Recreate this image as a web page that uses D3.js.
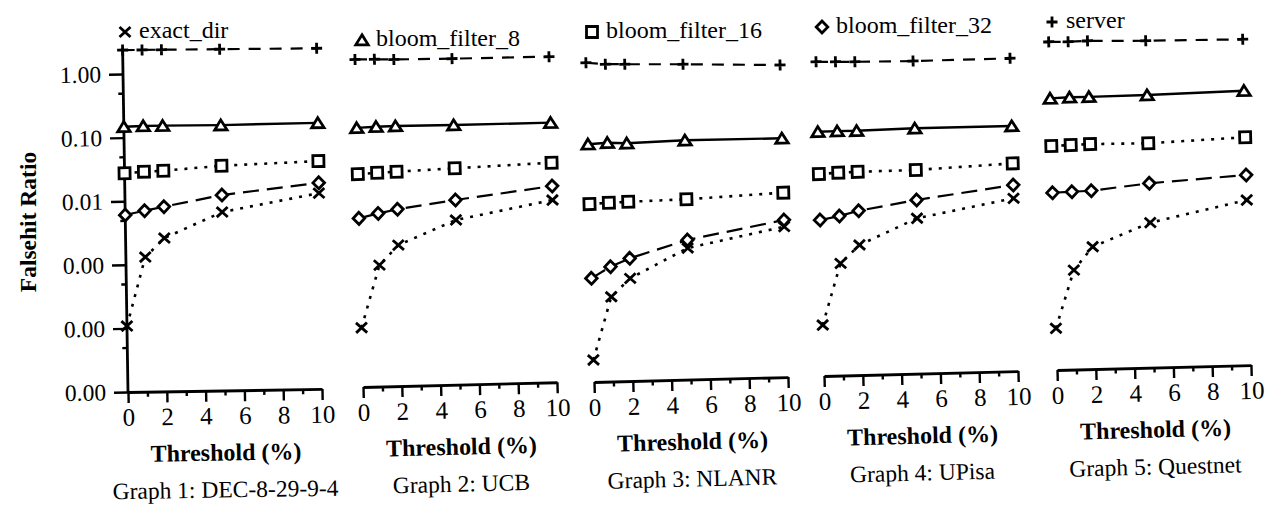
<!DOCTYPE html>
<html><head><meta charset="utf-8">
<script src="https://cdn.jsdelivr.net/npm/d3@7"></script>
<style>body{margin:0;background:#fff;} svg{display:block;}</style>
</head><body><svg id="chart" width="1268" height="508"></svg>
<script>
// ---------------- data ----------------
const thresholds = [0, 1, 2, 5, 10];
const graphTitles = ["Graph 1: DEC-8-29-9-4", "Graph 2: UCB", "Graph 3: NLANR", "Graph 4: UPisa", "Graph 5: Questnet"];
const legendLabels = ["exact_dir", "bloom_filter_8", "bloom_filter_16", "bloom_filter_32", "server"];
const serverValues = [
  [2.38, 2.37, 2.36, 2.33, 2.27],
  [1.42, 1.40, 1.37, 1.34, 1.32],
  [1.05, 0.98, 0.96, 0.91, 0.81],
  [0.875, 0.859, 0.844, 0.822, 0.830],
  [1.45, 1.43, 1.45, 1.38, 1.33]
];
const bloom8Values = [
  [0.148, 0.151, 0.151, 0.149, 0.153],
  [0.119, 0.122, 0.123, 0.121, 0.121],
  [0.055, 0.057, 0.055, 0.058, 0.057],
  [0.0694, 0.0698, 0.0694, 0.0720, 0.0716],
  [0.187, 0.191, 0.191, 0.193, 0.207]
];
const bloom16Values = [
  [0.0275, 0.0288, 0.0295, 0.0342, 0.0383],
  [0.0223, 0.0230, 0.0235, 0.0253, 0.0284],
  [0.00629, 0.00647, 0.00659, 0.00684, 0.00796],
  [0.0150, 0.0155, 0.0157, 0.0159, 0.0185],
  [0.0333, 0.0339, 0.0345, 0.0337, 0.0383]
];
const bloom32Values = [
  [0.00607, 0.00702, 0.00802, 0.01183, 0.01746],
  [0.00449, 0.00528, 0.00603, 0.00802, 0.0122],
  [0.000427, 0.000638, 0.00085, 0.00157, 0.00296],
  [0.00284, 0.00322, 0.00383, 0.00537, 0.00845],
  [0.00614, 0.00625, 0.00637, 0.00791, 0.00977]
];
const exactDirValues = [
  [0.000109, 0.00131, 0.00258, 0.0064, 0.0120],
  [0.0000855, 0.000813, 0.00165, 0.00389, 0.00735],
  [0.0000222, 0.000215, 0.000412, 0.00117, 0.00232],
  [0.0000634, 0.000581, 0.00111, 0.00277, 0.00522],
  [0.0000453, 0.000366, 0.000837, 0.00190, 0.00395]
];
const yTickValues = [1e-5, 1e-4, 1e-3, 1e-2, 1e-1, 1];
const yMinorTickValues = [5e-5, 5e-4, 5e-3, 5e-2, 5e-1];
const xTickValues = [0, 2, 4, 6, 8, 10];
const xMinorTickValues = [1, 3, 5, 7, 9];
const yAxisTopValue = 2.6;
const yAxisTitle = "Falsehit Ratio";
const xAxisTitle = "Threshold (%)";

// ---------------- styles / layout ----------------
const series = [
  {name: "server", values: serverValues, symbol: "plus", dash: "12,9", width: 2.2},
  {name: "bloom_filter_8", values: bloom8Values, symbol: "triangle", dash: null, width: 2.4},
  {name: "bloom_filter_16", values: bloom16Values, symbol: "square", dash: "3,7", width: 2.6},
  {name: "bloom_filter_32", values: bloom32Values, symbol: "diamond", dash: "16,8", width: 2.2},
  {name: "exact_dir", values: exactDirValues, symbol: "cross", dash: "3,7", width: 2.6}
];
const panelLayout = [
  {ox: 128, oy: 392, tilt: 0.9, legend: [125, 32]},
  {ox: 363, oy: 387, tilt: 1.4, legend: [362, 40]},
  {ox: 594, oy: 382, tilt: 1.45, legend: [592, 32]},
  {ox: 824, oy: 376, tilt: 1.45, legend: [822, 27]},
  {ox: 1057, oy: 370, tilt: 1.45, legend: [1052, 22]}
];
const FONT = "'Liberation Serif', 'Times New Roman', serif";
const symbolPaths = {
  plus: "M-5.5,0H5.5M0,-5.5V5.5",
  cross: "M-5.5,-5L5.5,5M-5.5,5L5.5,-5",
  triangle: "M0,-5.2L6.2,4.8H-6.2Z",
  square: "M-5.5,-5.5H5.5V5.5H-5.5Z",
  diamond: "M0,-6L5.8,0L0,6L-5.8,0Z"
};
function drawSymbol(sel, type) {
  sel.append("path")
    .attr("d", symbolPaths[type])
    .attr("fill", (type === "plus" || type === "cross") ? "none" : "#fff")
    .attr("stroke", "#000")
    .attr("stroke-width", 2.8)
    .attr("stroke-linejoin", "miter");
}

const svg = d3.select("#chart");
svg.append("rect").attr("width", 1268).attr("height", 508).attr("fill", "#fff");

const x = d3.scaleLinear().domain([0, 10]).range([0, 194]);
const y = d3.scaleLog().domain([1e-5, 1]).range([0, -318]);
const line = d3.line().x((d, i) => x(thresholds[i])).y(d => y(d));

function styleAxis(g, size) {
  g.selectAll("text").attr("font-family", FONT).attr("font-size", size).attr("fill", "#000");
  g.selectAll("line").attr("stroke", "#000").attr("stroke-width", 2.4);
  g.select(".domain").attr("stroke", "#000").attr("stroke-width", 2.8);
}

panelLayout.forEach((p, pi) => {
  const g = svg.append("g").attr("transform", `translate(${p.ox},${p.oy}) rotate(${-p.tilt})`);

  // x axis
  const xa = g.append("g").call(d3.axisBottom(x).tickValues(xTickValues).tickSize(11).tickSizeOuter(0).tickPadding(5));
  styleAxis(xa, 25);
  const xm = g.append("g").call(d3.axisBottom(x).tickValues(xMinorTickValues).tickSize(5).tickSizeOuter(0).tickFormat(""));
  styleAxis(xm, 25);
  xm.select(".domain").remove();

  // y axis only on first panel
  if (pi === 0) {
    const ya = g.append("g").call(d3.axisLeft(y).tickValues(yTickValues).tickFormat(d3.format(".2f")).tickSize(14).tickPadding(8));
    styleAxis(ya, 23.5);
    ya.select(".domain").remove();
    const ym = g.append("g").call(d3.axisLeft(y).tickValues(yMinorTickValues).tickFormat("").tickSize(5));
    styleAxis(ym, 23.5);
    ym.select(".domain").remove();
    g.append("line").attr("x1", 0).attr("x2", 0)
      .attr("y1", y(1e-5)).attr("y2", y(yAxisTopValue))
      .attr("stroke", "#000").attr("stroke-width", 2.8);
  }

  // lines
  series.forEach(s => {
    g.append("path")
      .attr("d", line(s.values[pi]))
      .attr("fill", "none")
      .attr("stroke", "#000")
      .attr("stroke-width", s.width)
      .attr("stroke-dasharray", s.dash);
  });
  // markers
  series.forEach(s => {
    s.values[pi].forEach((v, i) => {
      const m = g.append("g").attr("transform", `translate(${x(thresholds[i])},${y(v)})`);
      drawSymbol(m, s.symbol);
    });
  });

  // titles
  g.append("text").attr("x", 97).attr("y", 70)
    .attr("text-anchor", "middle").attr("font-family", FONT)
    .attr("font-size", 24).attr("font-weight", "bold").text(xAxisTitle);
  g.append("text").attr("x", 96).attr("y", 107)
    .attr("text-anchor", "middle").attr("font-family", FONT)
    .attr("font-size", 23.5).text(graphTitles[pi]);

  // legend entry
  const lbl = legendLabels[pi];
  const s = series.find(d => d.name === lbl);
  const lg = svg.append("g").attr("transform", `translate(${p.legend[0]},${p.legend[1]})`);
  drawSymbol(lg, s.symbol);
  lg.append("text").attr("x", 14).attr("y", 6)
    .attr("font-family", FONT).attr("font-size", 24).text(lbl);
});

// y axis title
svg.append("text")
  .attr("transform", "translate(36,222) rotate(-90)")
  .attr("text-anchor", "middle")
  .attr("font-family", FONT).attr("font-size", 23.5).attr("font-weight", "bold")
  .text(yAxisTitle);
</script>
</body></html>
